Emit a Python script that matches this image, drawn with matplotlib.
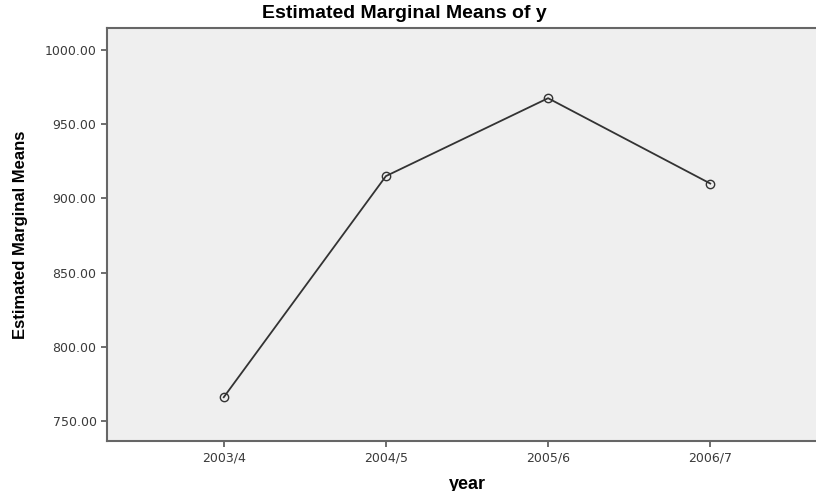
import matplotlib.pyplot as plt

# estimated marginal means per year
years = ['2003/4', '2004/5', '2005/6', '2006/7']
means = [766.0, 915.0, 967.5, 910.0]
yticks = [750, 800, 850, 900, 950, 1000]

fig = plt.figure(figsize=(8.16, 4.91), dpi=100)
# axes reaches a bit past the right edge, like the cropped original
ax = fig.add_axes([107 / 816, 50 / 491, 720 / 816, 413 / 491])
ax.set_facecolor('#efefef')

x = range(len(years))
ax.plot(x, means, color='#333333', lw=1.3, marker='o', markersize=6,
        markerfacecolor='none', markeredgecolor='#333333', markeredgewidth=1.0)

ax.set_xlim(-0.72, 3.72)
ax.set_ylim(736.5, 1014.8)
ax.set_xticks(list(x))
ax.set_xticklabels(years)
ax.set_yticks(yticks)
ax.set_yticklabels(['%.2f' % v for v in yticks])
ax.tick_params(labelsize=9, labelcolor='#3a3a3a', color='#555555', length=4, width=1.2)

for s in ['left', 'bottom', 'top']:
    ax.spines[s].set_color('#666666')
    ax.spines[s].set_linewidth(1.5)
ax.spines['right'].set_visible(False)

ax.set_xlabel('year', fontsize=13, fontweight='bold', family='Liberation Sans', labelpad=8)
ax.set_ylabel('Estimated Marginal Means', fontsize=12, fontweight='bold',
              family=['Liberation Sans Narrow', 'Liberation Sans'], labelpad=12)
fig.text(0.496, 0.973, 'Estimated Marginal Means of y', ha='center', va='center',
         fontsize=14, fontweight='bold', family='Liberation Sans')

fig.savefig('out.png', dpi=100)
